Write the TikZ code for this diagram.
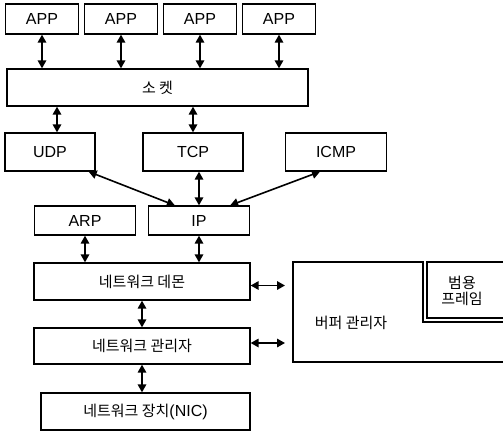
\documentclass[tikz,border=0pt]{standalone}
\usepackage{fontspec}
\setmainfont{Liberation Sans}
\newfontfamily\kor{Noto Sans CJK KR}
\usetikzlibrary{arrows.meta, positioning, calc}
\tikzset{
	block/.style={rectangle, draw, line width=1.3pt, inner sep=0pt, font=\fontsize{16}{16}\selectfont},
	app/.style={block, minimum width=73pt, minimum height=30pt},
	proto/.style={block, minimum width=101pt, minimum height=38pt},
	layer/.style={block, minimum width=216pt, minimum height=37pt},
	plain/.style={inner sep=0pt, font=\fontsize{15}{16}\selectfont},
	line/.style={draw, line width=1.6pt, {Triangle[length=8pt,width=8.5pt]}-{Triangle[length=8pt,width=8.5pt]}}
}

\begin{document}
\begin{tikzpicture}[x=1pt, y=-1pt]
		\useasboundingbox (0,0) rectangle (503,432);
		
		% Applications on top
		\node[app] (app1) at (42,19) {APP};
		\node[app] (app2) at (121,19) {APP};
		\node[app] (app3) at (200,19) {APP};
		\node[app] (app4) at (279,19) {APP};
		
		% Socket layer
		\node[block, minimum width=301pt, minimum height=37pt] (socket) at (157.5,87.5) {\kor\fontsize{15}{16}\selectfont 소 켓};
		
		% Transport protocols
		\node[proto, minimum width=90pt] (udp) at (50,152) {UDP};
		\node[proto, minimum width=100pt] (tcp) at (193,152) {TCP};
		\node[proto] (icmp) at (336,152) {ICMP};
		
		% ARP and IP
		\node[proto, minimum height=29pt] (arp) at (85,220.5) {ARP};
		\node[proto, minimum height=29pt] (ip) at (199,220.5) {IP};
		
		% Lower layers
		\node[layer] (daemon) at (142,281.5) {\kor\fontsize{15}{16}\selectfont 네트워크 데몬};
		\node[layer, minimum height=36pt] (manager) at (142,346) {\kor\fontsize{15}{16}\selectfont 네트워크 관리자};
		\node[layer, minimum width=209pt] (nic) at (145.5,411.5) {{\kor\fontsize{15}{16}\selectfont 네트워크 장치}(NIC)};
		
		% Buffer manager with the general frame in its corner
		\draw[line width=1.3pt] (503,362) -- (293,362) -- (293,262) -- (423,262) -- (423,322) -- (503,322);
		\draw[line width=1.3pt] (503,262) -- (427,262) -- (427,318) -- (503,318);
		\coordinate (bufw) at (293,312);
		\node[plain] (bufmgr) at (351,323) {\kor 버퍼 관리자};
		\node[plain, align=center] (frame) at (462,291) {\kor 범용\\\kor 프레임};
		
		% Connections
		\foreach \a in {app1, app2, app3, app4}
			\draw[line] (\a.south) -- (\a.south |- socket.north);
		\draw[line] ([xshift=7pt]udp.north |- socket.south) -- ([xshift=7pt]udp.north);
		\draw[line] (tcp.north |- socket.south) -- (tcp.north);
		\draw[line] ([xshift=-7pt]udp.south east) -- ([xshift=27pt]ip.north west);
		\draw[line] (ip.north |- tcp.south) -- (ip.north);
		\draw[line] ([xshift=-16pt]icmp.south) -- ([xshift=-20pt]ip.north east);
		\draw[line] (arp.south) -- (arp.south |- daemon.north);
		\draw[line] (ip.south) -- (ip.south |- daemon.north);
		\draw[line] (daemon.south) -- (daemon.south |- manager.north);
		\draw[line] (manager.south) -- (manager.south |- nic.north);
		\draw[line, shorten >=8pt] ([yshift=-4pt]daemon.east) -- ([yshift=-4pt]daemon.east -| bufw);
		\draw[line, shorten >=8pt] ([yshift=3pt]manager.east) -- ([yshift=3pt]manager.east -| bufw);
		
	\end{tikzpicture}
\end{document}
